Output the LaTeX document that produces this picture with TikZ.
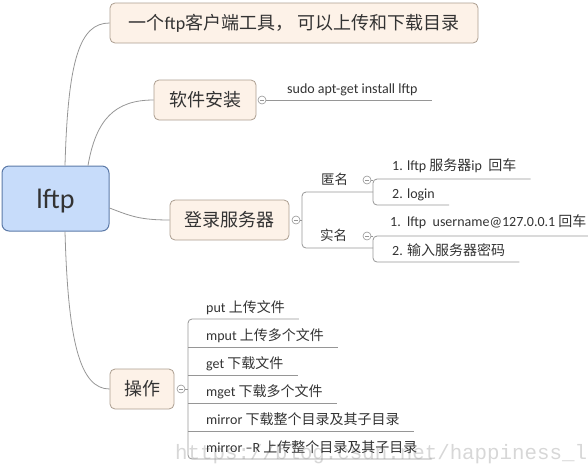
\documentclass[tikz,border=0pt]{standalone}
\usepackage{fontspec}
\setmainfont{Carlito}
\newfontfamily\cjk{Noto Sans CJK SC}
\newfontfamily\wmfont{Liberation Mono}
\newcommand\zh[1]{{\cjk #1}}
\definecolor{ink}{RGB}{51,51,51}
\definecolor{wire}{RGB}{150,150,150}
\definecolor{peachfill}{RGB}{253,242,232}
\definecolor{peachline}{RGB}{172,158,144}
\definecolor{rootfill}{RGB}{199,220,250}
\definecolor{rootline}{RGB}{92,122,168}
\definecolor{mark}{RGB}{215,215,215}
\begin{document}
\begin{tikzpicture}[x=1pt,y=-1pt,
  link/.style={draw=wire, line width=0.8pt},
  rootbox/.style={draw=rootline, fill=rootfill, rounded corners=7pt, line width=1pt,
    minimum width=107pt, minimum height=65pt, inner sep=0pt, text=ink, text depth=0pt,
    font=\fontsize{28}{28}\selectfont},
  topic/.style={draw=peachline, fill=peachfill, rounded corners=5pt, line width=0.8pt,
    minimum height=40pt, inner sep=0pt, text=ink, font=\fontsize{18}{18}\selectfont},
  leaf/.style={anchor=south west, inner xsep=0pt, inner ysep=6.5pt, text depth=0pt,
    text=ink, font=\fontsize{14}{14}\selectfont},
  fold/.style={circle, draw=wire, fill=white, line width=0.6pt, minimum size=8pt, inner sep=0pt,
    path picture={\draw[wire, line width=0.6pt]
      ([xshift=-2pt]path picture bounding box.center) --
      ([xshift=2pt]path picture bounding box.center);}},
  tail/.style={xshift=14pt}
]
\useasboundingbox (0,0) rectangle (588,464);

% faint address stamp along the bottom
\node[anchor=base west, inner sep=0pt, text=mark, font=\wmfont\fontsize{20.8}{20.8}\selectfont]
  (stamp) at (175,459) {https://blog.csdn.net/happiness\_l};

% central topic and main branches
\node[rootbox] (root) at (55.5,198.5) {lftp};
\node[topic, minimum width=368pt] (t1) at (294,23)
  {\zh{一个}ftp\zh{客户端工具，} \zh{可以上传和下载目录}};
\node[topic, minimum width=102pt] (t2) at (205,100) {\zh{软件安装}};
\node[topic, minimum width=119pt] (t3) at (229.5,220) {\zh{登录服务器}};
\node[topic, minimum width=64pt] (t4) at (142,389) {\zh{操作}};

\draw[link] ([xshift=9.5pt]root.north) .. controls +(3,-106) and +(-30,0) .. (t1.west);
\draw[link] ([xshift=32.5pt]root.north) .. controls +(8,-46) and +(-39,0) .. (t2.west);
\draw[link] ([yshift=-9.5pt]root.east) .. controls +(21,8) and +(-30,0) .. (t3.west);
\draw[link] ([xshift=9.5pt]root.south) .. controls +(3,109) and +(-30,0) .. (t4.west);

% install branch
\node[fold] (f2) at (262,100) {};
\node[leaf] (sudo) at (287,100) {sudo apt-get install lftp};
\draw[link] (f2.east) -- ([tail]sudo.south east);

% login branch
\node[fold] (f3) at (296,220) {};
\coordinate (lv) at (302,220);
\coordinate (av) at (373,192);
\coordinate (rv) at (373,248);
\node[leaf, inner ysep=7pt, font=\fontsize{13.5}{13.5}\selectfont] (anon) at (321,192) {\zh{匿名}};
\node[leaf, inner ysep=7pt, font=\fontsize{13.5}{13.5}\selectfont] (real) at (320,248) {\zh{实名}};
\draw[link] (f3.east) -- (lv);
\draw[link, rounded corners=4pt] (av) -| (lv) |- (rv);

\node[fold] (fa) at (367,180) {};
\node[leaf, inner ysep=8.5pt] (a1) at (392,179) {1. lftp \zh{服务器}ip\ \ \zh{回车}};
\node[leaf] (a2) at (392,205) {2. login};
\draw[link] (fa.east) -- (av |- fa);
\draw[link, rounded corners=4pt] ([tail]a1.south east) -| (av) |- ([tail]a2.south east);

\node[fold] (fr) at (367,236) {};
\node[leaf, inner ysep=9.5pt] (r1) at (390,236) {1.\ \ lftp\ \ username@127.0.0.1 \zh{回车}};
\node[leaf] (r2) at (392,262) {2. \zh{输入服务器密码}};
\draw[link] (fr.east) -- (rv |- fr);
\draw[link, rounded corners=4pt] ([tail]r1.south east) -| (rv) |- ([tail]r2.south east);

% operations branch
\node[fold] (f4) at (181,389) {};
\coordinate (ov) at (188,389);
\node[leaf] (i1) at (206,319) {put \zh{上传文件}};
\node[leaf] (i2) at (206,347) {mput \zh{上传多个文件}};
\node[leaf] (i3) at (206,375) {get \zh{下载文件}};
\node[leaf] (i4) at (206,403) {mget \zh{下载多个文件}};
\node[leaf] (i5) at (206,431) {mirror \zh{下载整个目录及其子目录}};
\node[leaf] (i6) at (206,459) {mirror –R \zh{上传整个目录及其子目录}};
\draw[link] (f4.east) -- (ov);
\draw[link, rounded corners=4pt] ([tail]i1.south east) -| (ov) |- ([tail]i6.south east);
\foreach \k in {i2,i3,i4,i5}
  \draw[link] (ov |- \k.south) -- ([tail]\k.south east);
\end{tikzpicture}
\end{document}
